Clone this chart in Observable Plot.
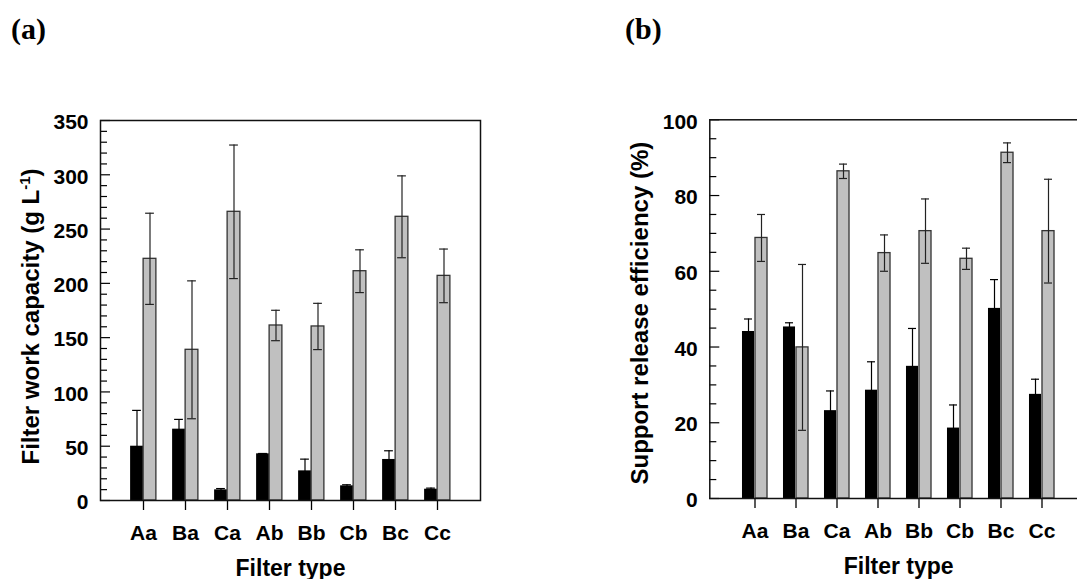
<!DOCTYPE html>
<html>
<head>
<meta charset="utf-8">
<script src="https://cdn.jsdelivr.net/npm/d3@7"></script>
<script src="https://cdn.jsdelivr.net/npm/@observablehq/plot@0.6"></script>
<style>
  html, body { margin: 0; padding: 0; background: #fff; overflow: hidden; }
  #wrap { position: relative; width: 1077px; height: 579px; overflow: hidden; background: #fff; }
  .panel { position: absolute; top: 0; z-index: 1; }
  .panel svg { max-width: none !important; }
  .tag { position: absolute; z-index: 2; font-family: "Liberation Serif", "Times New Roman", serif; font-weight: bold; font-size: 30px; line-height: 30px; color: #000; }
</style>
</head>
<body>
<div id="wrap">
  <div id="pa" class="panel" style="left:0px;width:540px;"></div>
  <div id="pb" class="panel" style="left:540px;width:600px;"></div>
  <div class="tag" style="left:11px;top:14px;">(a)</div>
  <div class="tag" style="left:625px;top:14px;">(b)</div>
</div>
<script>
// ---- data ----
const categories = ["Aa", "Ba", "Ca", "Ab", "Bb", "Cb", "Bc", "Cc"];

// (a) Filter work capacity (g L-1)
const capBlack    = [50.0, 65.7, 9.8, 43.0, 27.3, 13.5, 37.8, 10.4];
const capBlackErr = [33.0, 9.0, 1.2, 0.3, 10.8, 1.0, 8.0, 1.0];
const capGray     = [222.6, 138.8, 265.9, 161.2, 160.3, 211.2, 261.3, 206.9];
const capGrayErr  = [42.0, 63.5, 61.5, 14.0, 21.3, 19.7, 37.7, 24.7];
const capMajorTicks = [0, 50, 100, 150, 200, 250, 300, 350];
const capMinorTicks = [10, 20, 30, 40, 60, 70, 80, 90, 110, 120, 130, 140, 160, 170, 180, 190, 210, 220, 230, 240, 260, 270, 280, 290, 310, 320, 330, 340];

// (b) Support release efficiency (%)
const effBlack    = [44.1, 45.3, 23.2, 28.6, 34.9, 18.6, 50.2, 27.5];
const effBlackErr = [3.3, 1.1, 5.2, 7.5, 10.0, 6.1, 7.6, 4.0];
const effGray     = [68.8, 39.9, 86.4, 64.8, 70.6, 63.3, 91.3, 70.6];
const effGrayErr  = [6.2, 21.9, 1.9, 4.8, 8.5, 2.8, 2.6, 13.7];
const effMajorTicks = [0, 20, 40, 60, 80, 100];
const effMinorTicks = [5, 10, 15, 25, 30, 35, 45, 50, 55, 65, 70, 75, 85, 90, 95];

const FONT = '"Liberation Sans", Arial, Helvetica, sans-serif';

function panel({black, blackErr, gray, grayErr, yMax, major, minor, yTitle, width, height, mL, mR, mT, mB, titleDx, titleDy, xTitleDx}) {
  const rowsB = categories.map((c, i) => ({cat: c, v: black[i], lo: black[i] - blackErr[i], hi: black[i] + blackErr[i]}));
  const rowsG = categories.map((c, i) => ({cat: c, v: gray[i], lo: gray[i] - grayErr[i], hi: gray[i] + grayErr[i]}));
  const frameW = width - mL - mR;
  const bw = frameW / (categories.length + 1);   // band width (paddingOuter 0.5)
  const half = bw / 2;
  const barW = 13;
  const capHalf = 4.5;
  const off = barW / 2;
  return Plot.plot({
    width, height,
    marginLeft: mL, marginRight: mR, marginTop: mT, marginBottom: mB,
    style: {fontFamily: FONT, fontWeight: "bold", fontSize: "21px", color: "#000", background: "transparent", overflow: "visible", maxWidth: "none"},
    x: {domain: categories, paddingInner: 0, paddingOuter: 0.5, label: null},
    y: {domain: [0, yMax], label: null, axis: null},
    marks: [
      // bars
      Plot.barY(rowsB, {x: "cat", y: "v", fill: "#000", insetLeft: half - barW, insetRight: half}),
      Plot.barY(rowsG, {x: "cat", y: "v", fill: "#c0c0c0", stroke: "#333", strokeWidth: 1.3, insetLeft: half, insetRight: half - barW}),
      // error bars
      Plot.ruleX(rowsB, {x: "cat", y1: "lo", y2: "hi", dx: -off, stroke: "#000", strokeWidth: 1.2}),
      Plot.tickY(rowsB, {x: "cat", y: "hi", insetLeft: half - off - capHalf, insetRight: half + off - capHalf, stroke: "#000", strokeWidth: 1.2}),
      Plot.tickY(rowsB, {x: "cat", y: "lo", insetLeft: half - off - capHalf, insetRight: half + off - capHalf, stroke: "#000", strokeWidth: 1.2}),
      Plot.ruleX(rowsG, {x: "cat", y1: "lo", y2: "hi", dx: off, stroke: "#222", strokeWidth: 1.2}),
      Plot.tickY(rowsG, {x: "cat", y: "hi", insetLeft: half + off - capHalf, insetRight: half - off - capHalf, stroke: "#222", strokeWidth: 1.2}),
      Plot.tickY(rowsG, {x: "cat", y: "lo", insetLeft: half + off - capHalf, insetRight: half - off - capHalf, stroke: "#222", strokeWidth: 1.2}),
      // inward y ticks
      Plot.tickY(minor, {y: d => d, insetRight: frameW - 7, stroke: "#000", strokeWidth: 1.2}),
      Plot.tickY(major, {y: d => d, insetRight: frameW - 10, stroke: "#000", strokeWidth: 1.2}),
      // y tick labels
      Plot.text(major, {y: d => d, text: d => String(d), frameAnchor: "left", textAnchor: "end", lineAnchor: "middle", dx: -12, dy: 2, fontSize: 21, fontWeight: "bold", fill: "#000"}),
      // x ticks and labels
      Plot.axisX({tickSize: 10, tickPadding: 15, label: null, stroke: "#000", strokeWidth: 1.3, fontSize: 21, fontWeight: "bold", fill: "#000"}),
      // frame
      Plot.frame({stroke: "#111", strokeWidth: 1.5}),
      // axis titles
      Plot.text(["Filter type"], {frameAnchor: "bottom", lineAnchor: "middle", dy: 68, dx: xTitleDx, fontSize: 23, fontWeight: "bold", fill: "#000"}),
      Plot.text([yTitle], {frameAnchor: "left", rotate: -90, lineAnchor: "middle", textAnchor: "middle", dx: titleDx, dy: titleDy, fontSize: 24, fontWeight: "bold", fill: "#000"})
    ]
  });
}

const a = panel({black: capBlack, blackErr: capBlackErr, gray: capGray, grayErr: capGrayErr, yMax: 350,
  major: capMajorTicks, minor: capMinorTicks, yTitle: "Filter work capacity (g L-1)",
  width: 540, height: 579, mL: 100, mR: 60, mT: 120, mB: 79, titleDx: -69, titleDy: 6, xTitleDx: 0});
document.getElementById("pa").appendChild(a);

const b = panel({black: effBlack, blackErr: effBlackErr, gray: effGray, grayErr: effGrayErr, yMax: 100,
  major: effMajorTicks, minor: effMinorTicks, yTitle: "Support release efficiency (%)",
  width: 600, height: 579, mL: 169.3, mR: 53, mT: 119.3, mB: 81, titleDx: -69, titleDy: 4, xTitleDx: 0});
document.getElementById("pb").appendChild(b);

// superscript for g L-1
d3.select(a).selectAll("text").filter(function () { return this.textContent === "Filter work capacity (g L-1)"; })
  .each(function () {
    const t = d3.select(this);
    t.text("Filter work capacity (g L");
    t.append("tspan").attr("font-size", 15).attr("dy", "-9").text("-1");
    t.append("tspan").attr("font-size", 24).attr("dy", "9").text(")");
  });
</script>
</body>
</html>
